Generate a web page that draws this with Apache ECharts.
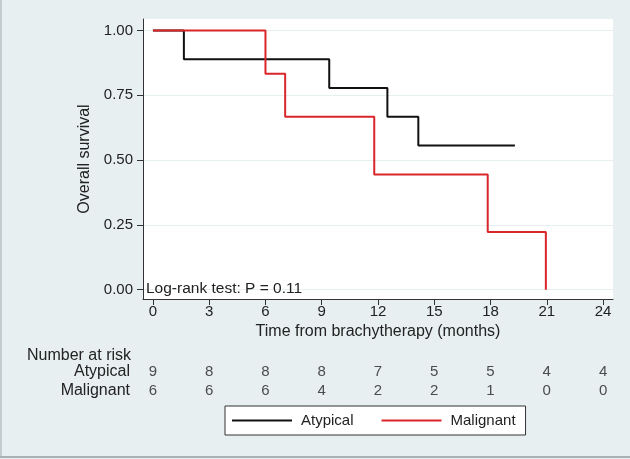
<!DOCTYPE html>
<html>
<head>
<meta charset="utf-8">
<script src="https://cdn.jsdelivr.net/npm/echarts@6/dist/echarts.min.js"></script>
<style>
html,body{margin:0;padding:0;background:#e8eff1;}
#c{width:630px;height:459px;}
</style>
</head>
<body>
<div id="c"></div>
<script>
// ---- data ----
var xTicks = [0, 3, 6, 9, 12, 15, 18, 21, 24];
var yTicks = [0, 0.25, 0.5, 0.75, 1];
var atypTimes = [0, 1.65, 9.4, 12.5, 14.15, 19.3];
var atypSurv  = [1, 0.889, 0.778, 0.667, 0.556, 0.556];
var maligTimes = [0, 6.0, 7.05, 11.8, 17.85, 20.95];
var maligSurv  = [1, 0.833, 0.667, 0.444, 0.222, 0];
var groups = ['Atypical', 'Malignant'];
var atypRisk  = [9, 8, 8, 8, 7, 5, 5, 4, 4];
var maligRisk = [6, 6, 6, 4, 2, 2, 1, 0, 0];

var FONT = '"Liberation Sans", Arial, sans-serif';
var TXT = '#222';

function zip(a, b) { return a.map(function (v, i) { return [v, b[i]]; }); }
function riskData(name, arr) { return xTicks.map(function (t, i) { return [t, name, arr[i]]; }); }

var chart = echarts.init(document.getElementById('c'), null, {renderer: 'canvas'});
chart.setOption({
  backgroundColor: '#e8eff1',
  animation: false,
  textStyle: {fontFamily: FONT},
  grid: [
    {left: 143, top: 19, width: 470, height: 280, show: true, backgroundColor: '#ffffff', borderWidth: 0, containLabel: false},
    {left: 143, top: 362, width: 470, height: 38, containLabel: false}
  ],
  xAxis: [
    {
      gridIndex: 0, type: 'value', min: -0.53, max: 24.53,
      name: 'Time from brachytherapy (months)', nameLocation: 'middle', nameGap: 20,
      nameTextStyle: {fontSize: 16, color: TXT, fontFamily: FONT},
      axisLine: {show: true, onZero: false, lineStyle: {color: '#333', width: 1}},
      axisTick: {show: true, length: 6, customValues: xTicks, lineStyle: {color: '#333'}},
      axisLabel: {show: true, customValues: xTicks, margin: 5, fontSize: 15, color: TXT, fontFamily: FONT},
      splitLine: {show: false}
    },
    {
      gridIndex: 1, type: 'value', min: -0.53, max: 24.53,
      axisLine: {show: false}, axisTick: {show: false}, axisLabel: {show: false}, splitLine: {show: false}
    }
  ],
  yAxis: [
    {
      gridIndex: 0, type: 'value', min: -0.036, max: 1.044,
      name: 'Overall survival', nameLocation: 'middle', nameGap: 43, nameRotate: 90,
      nameTextStyle: {fontSize: 16, color: TXT, fontFamily: FONT},
      axisLine: {show: true, onZero: false, lineStyle: {color: '#333', width: 1}},
      axisTick: {show: true, length: 6, customValues: yTicks, lineStyle: {color: '#333'}},
      axisLabel: {show: true, customValues: yTicks, margin: 10, fontSize: 15, color: TXT, fontFamily: FONT,
        formatter: function (v) { return v.toFixed(2); }},
      splitLine: {show: true, lineStyle: {color: '#e6eef0', width: 1}}
    },
    {
      gridIndex: 1, type: 'category', data: groups, inverse: true,
      axisLine: {show: false}, axisTick: {show: false},
      axisLabel: {show: true, interval: 0, margin: 13, fontSize: 16, color: TXT, fontFamily: FONT},
      splitLine: {show: false}
    }
  ],
  legend: {
    left: 225, top: 406, width: 306,
    orient: 'horizontal',
    data: ['Atypical', 'Malignant'],
    icon: 'rect', itemWidth: 60, itemHeight: 2, itemGap: 28,
    padding: [7, 10, 7, 7],
    borderColor: '#333', borderWidth: 1, backgroundColor: '#ffffff',
    textStyle: {fontSize: 15, color: TXT, fontFamily: FONT, padding: [0, 0, 0, 4]}
  },
  title: {
    text: 'Number at risk', left: 22, top: 343,
    textStyle: {fontSize: 16, fontWeight: 'normal', color: TXT, fontFamily: FONT}
  },
  graphic: [
    {type: 'text', left: 146, top: 281, z: 100, style: {text: 'Log-rank test: P = 0.11', font: '15.5px ' + FONT, fill: TXT}},
    {type: 'line', shape: {x1: 1, y1: 0, x2: 1, y2: 456}, style: {stroke: '#b8c0c3', lineWidth: 1.5}},
    {type: 'line', shape: {x1: 0, y1: 457, x2: 630, y2: 457}, style: {stroke: '#a8b0b3', lineWidth: 2}}
  ],
  series: [
    {
      name: 'Atypical', type: 'line', xAxisIndex: 0, yAxisIndex: 0, step: 'end',
      data: zip(atypTimes, atypSurv), showSymbol: false, symbol: 'none',
      lineStyle: {color: '#111111', width: 2}, itemStyle: {color: '#111111'}
    },
    {
      name: 'Malignant', type: 'line', xAxisIndex: 0, yAxisIndex: 0, step: 'end',
      data: zip(maligTimes, maligSurv), showSymbol: false, symbol: 'none',
      lineStyle: {color: '#d9262b', width: 2}, itemStyle: {color: '#d9262b'}
    },
    {
      type: 'scatter', xAxisIndex: 1, yAxisIndex: 1, symbolSize: 1,
      itemStyle: {color: 'rgba(0,0,0,0)'},
      data: riskData('Atypical', atypRisk),
      label: {show: true, position: 'inside', fontSize: 15, color: TXT, fontFamily: FONT,
        formatter: function (p) { return String(p.value[2]); }}
    },
    {
      type: 'scatter', xAxisIndex: 1, yAxisIndex: 1, symbolSize: 1,
      itemStyle: {color: 'rgba(0,0,0,0)'},
      data: riskData('Malignant', maligRisk),
      label: {show: true, position: 'inside', fontSize: 15, color: TXT, fontFamily: FONT,
        formatter: function (p) { return String(p.value[2]); }}
    }
  ]
});
</script>
</body>
</html>
